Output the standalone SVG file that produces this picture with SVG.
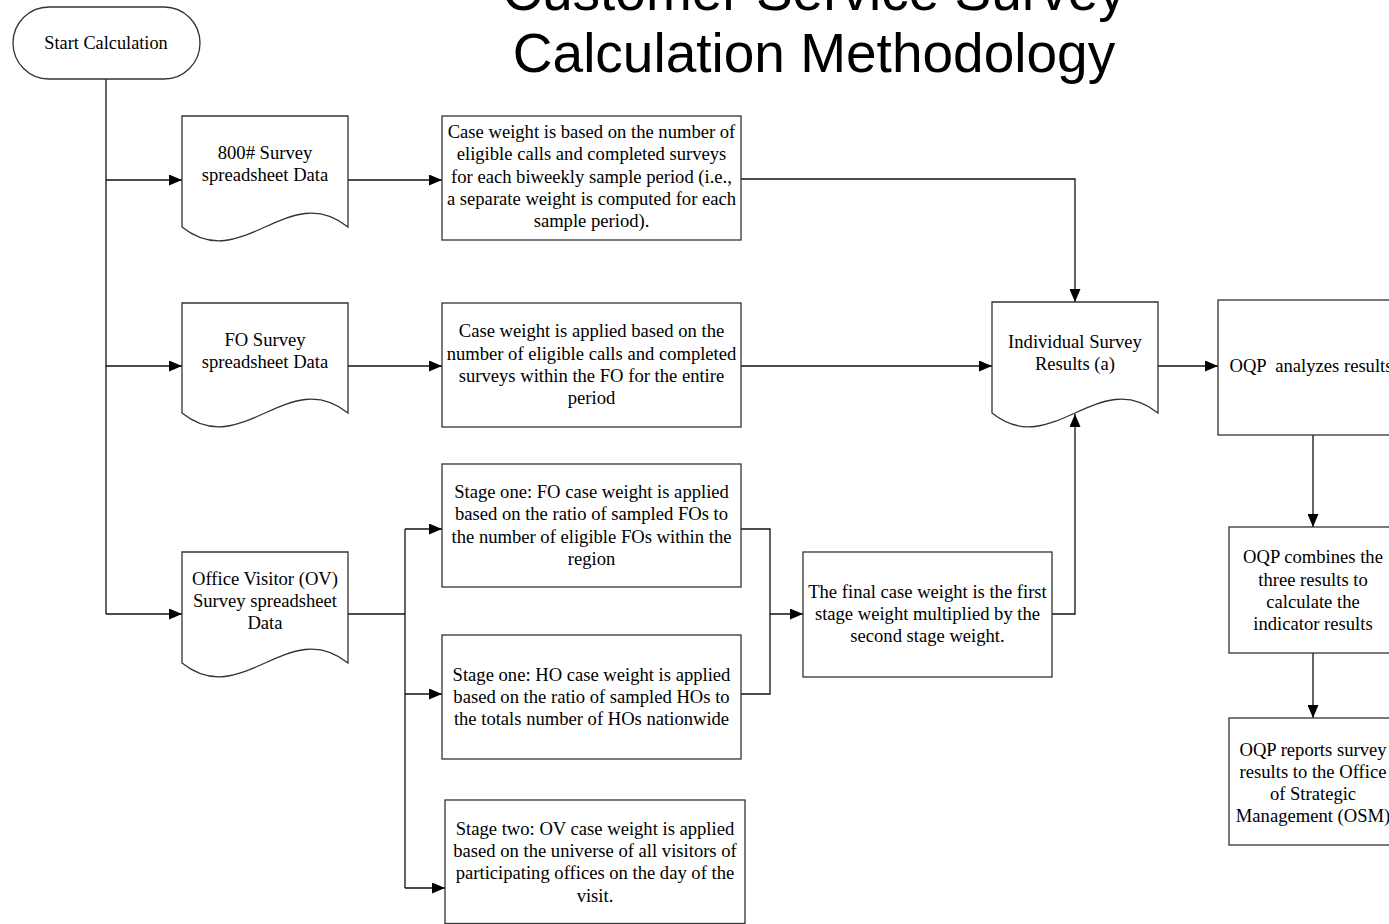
<svg xmlns="http://www.w3.org/2000/svg" width="1389" height="924" viewBox="0 0 1389 924">
<style>
.shape{fill:#fff;stroke:#333;stroke-width:1.3}
.t{font-family:"Liberation Serif","Times New Roman",serif;font-size:18.6px;fill:#000;text-anchor:middle}
.title{font-family:"Liberation Sans",Arial,sans-serif;font-size:55px;fill:#000;text-anchor:middle}
.c{fill:none;stroke:#111;stroke-width:1.3}
.a{marker-end:url(#arr)}
</style>
<defs>
<marker id="arr" markerUnits="userSpaceOnUse" markerWidth="13" markerHeight="11" refX="13" refY="5.5" orient="auto">
<path d="M0,0 L13,5.5 L0,11 z" fill="#000"/>
</marker>
</defs>
<rect width="1389" height="924" fill="#fff"/>
<g id="title">
<text class="title" x="814" y="10">Customer Service Survey</text>
<text class="title" x="814" y="72">Calculation Methodology</text>
</g>
<g id="connectors">
<path class="c" d="M106,79 V614"/>
<path class="c a" d="M106,180 H182"/>
<path class="c a" d="M106,366 H182"/>
<path class="c a" d="M106,614 H182"/>
<path class="c a" d="M348,180 H442"/>
<path class="c a" d="M348,366 H442"/>
<path class="c" d="M348,614 H405"/>
<path class="c" d="M405,529 V888"/>
<path class="c a" d="M405,529 H442"/>
<path class="c a" d="M405,694 H442"/>
<path class="c a" d="M405,888 H445"/>
<path class="c" d="M741,529 H770 V694 H741"/>
<path class="c a" d="M770,614 H803"/>
<path class="c a" d="M741,179 H1075 V302"/>
<path class="c a" d="M741,366 H992"/>
<path class="c a" d="M1052,614 H1075 V414"/>
<path class="c a" d="M1158,366 H1218"/>
<path class="c a" d="M1313,435 V527"/>
<path class="c a" d="M1313,653 V718"/>
</g>
<g id="start">
<rect class="shape" x="13" y="7" width="187" height="72" rx="36" ry="36"/>
<text class="t" x="106" y="49" style="font-size:18.3px">Start Calculation</text>
</g>
<g id="doc800">
<path class="shape" d="M182,116 H348 V227 C288,179 242,275 182,227 Z"/>
<text class="t" x="265" y="159">800# Survey</text>
<text class="t" x="265" y="181">spreadsheet Data</text>
</g>
<g id="docFO">
<path class="shape" d="M182,303 H348 V413 C288,365 242,461 182,413 Z"/>
<text class="t" x="265" y="346">FO Survey</text>
<text class="t" x="265" y="368">spreadsheet Data</text>
</g>
<g id="docOV">
<path class="shape" d="M182,552 H348 V663 C288,615 242,711 182,663 Z"/>
<text class="t" x="265" y="585">Office Visitor (OV)</text>
<text class="t" x="265" y="607">Survey spreadsheet</text>
<text class="t" x="265" y="629">Data</text>
</g>
<g id="boxA">
<rect class="shape" x="442" y="116" width="299" height="124"/>
<text class="t" x="591.5" y="138">Case weight is based on the number of</text>
<text class="t" x="591.5" y="160">eligible calls and completed surveys</text>
<text class="t" x="591.5" y="183">for each biweekly sample period (i.e.,</text>
<text class="t" x="591.5" y="205">a separate weight is computed for each</text>
<text class="t" x="591.5" y="227">sample period).</text>
</g>
<g id="boxB">
<rect class="shape" x="442" y="303" width="299" height="124"/>
<text class="t" x="591.5" y="337">Case weight is applied based on the</text>
<text class="t" x="591.5" y="360">number of eligible calls and completed</text>
<text class="t" x="591.5" y="382">surveys within the FO for the entire</text>
<text class="t" x="591.5" y="404">period</text>
</g>
<g id="boxC">
<rect class="shape" x="442" y="464" width="299" height="123"/>
<text class="t" x="591.5" y="498">Stage one: FO case weight is applied</text>
<text class="t" x="591.5" y="520">based on the ratio of sampled FOs to</text>
<text class="t" x="591.5" y="543">the number of eligible FOs within the</text>
<text class="t" x="591.5" y="565">region</text>
</g>
<g id="boxD">
<rect class="shape" x="442" y="635" width="299" height="124"/>
<text class="t" x="591.5" y="681">Stage one: HO case weight is applied</text>
<text class="t" x="591.5" y="703">based on the ratio of sampled HOs to</text>
<text class="t" x="591.5" y="725">the totals number of HOs nationwide</text>
</g>
<g id="boxE">
<rect class="shape" x="445" y="800" width="300" height="123.5"/>
<text class="t" x="595" y="835">Stage two: OV case weight is applied</text>
<text class="t" x="595" y="857">based on the universe of all visitors of</text>
<text class="t" x="595" y="879">participating offices on the day of the</text>
<text class="t" x="595" y="902">visit.</text>
</g>
<g id="boxF">
<rect class="shape" x="803" y="552" width="249" height="125"/>
<text class="t" x="927.5" y="598">The final case weight is the first</text>
<text class="t" x="927.5" y="620">stage weight multiplied by the</text>
<text class="t" x="927.5" y="642">second stage weight.</text>
</g>
<g id="docISR">
<path class="shape" d="M992,302 H1158 V413 C1098,365 1052,461 992,413 Z"/>
<text class="t" x="1075" y="348">Individual Survey</text>
<text class="t" x="1075" y="370">Results (a)</text>
</g>
<g id="boxOQP">
<rect class="shape" x="1218" y="300" width="189" height="135"/>
<text class="t" x="1311" y="372" xml:space="preserve">OQP  analyzes results</text>
</g>
<g id="boxG">
<rect class="shape" x="1229" y="527" width="168" height="126"/>
<text class="t" x="1313" y="563">OQP combines the</text>
<text class="t" x="1313" y="586">three results to</text>
<text class="t" x="1313" y="608">calculate the</text>
<text class="t" x="1313" y="630">indicator results</text>
</g>
<g id="boxH">
<rect class="shape" x="1229" y="718" width="168" height="127"/>
<text class="t" x="1313" y="756">OQP reports survey</text>
<text class="t" x="1313" y="778">results to the Office</text>
<text class="t" x="1313" y="800">of Strategic</text>
<text class="t" x="1313" y="822">Management (OSM)</text>
</g>
</svg>
